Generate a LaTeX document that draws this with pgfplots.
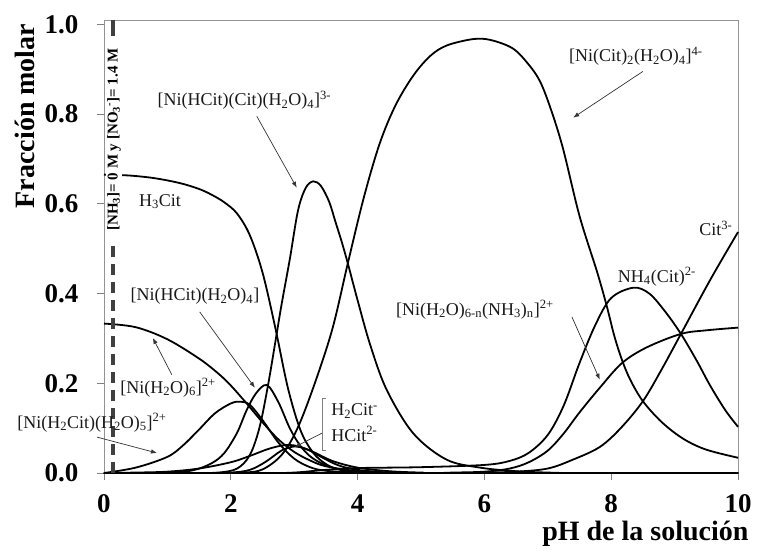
\documentclass[border=0pt]{standalone}
\usepackage{fontspec}
\setmainfont{Liberation Serif}
\usepackage{pgfplots}
\pgfplotsset{compat=1.18}
\usetikzlibrary{arrows.meta}
\pgfplotsset{curve/.style={black, solid, no marks, line width=1.8pt, smooth, tension=0.55}}
\begin{document}
\begin{tikzpicture}[x=1pt,y=1pt]
\useasboundingbox (-104,-77) rectangle (653,473);
\begin{axis}[
  at={(0pt,0pt)}, anchor=south west,
  width=634pt, height=453pt, scale only axis,
  xmin=0, xmax=10, ymin=0, ymax=1.0096,
  xtick={0,2,4,6,8,10}, ytick={0,0.2,0.4,0.6,0.8,1.0},
  tick align=outside, xtick pos=bottom, ytick pos=left,
  major tick length=7pt,
  tick style={gray, line width=0.8pt},
  axis line style={gray!85, line width=0.8pt},
  /pgf/number format/assume math mode=true,
  ticklabel style={font=\fontsize{27}{30}\selectfont\bfseries},
  yticklabel style={/pgf/number format/fixed,/pgf/number format/fixed zerofill,/pgf/number format/precision=1, xshift=-15pt},
  xticklabel style={yshift=-11pt},
  xlabel={pH de la solución}, ylabel={Fracción molar},
  label style={font=\fontsize{28}{30}\selectfont\bfseries},
  xlabel style={at={(axis description cs:1.022,-0.148)}, anchor=base east},
  ylabel style={at={(axis description cs:-0.1246,0.788)}, anchor=center},
  clip=false,
]
% H3Cit
\addplot[curve] coordinates {(0,0.665)(0.4,0.663)(0.8,0.657)(1.2,0.646)(1.5,0.633)(1.7,0.62)(1.9,0.603)(2.1,0.578)(2.3,0.53)(2.5,0.447)(2.7,0.325)(2.9,0.19)(3.1,0.095)(3.3,0.045)(3.5,0.02)(3.7,0.008)(4,0.002)(4.5,0)(5,0)(10,0)};
% Ni(H2O)6
\addplot[curve] coordinates {(0,0.333)(0.5,0.325)(1,0.298)(1.5,0.255)(1.8,0.222)(2,0.195)(2.25,0.155)(2.5,0.113)(2.75,0.075)(3,0.047)(3.25,0.028)(3.5,0.015)(4,0.004)(4.5,0.001)(5,0)(5.5,0)(10,0)};
% Ni(H2Cit)(H2O)5
\addplot[curve] coordinates {(0,0)(0.5,0.012)(1,0.036)(1.25,0.062)(1.5,0.097)(1.75,0.133)(2,0.155)(2.15,0.159)(2.3,0.152)(2.5,0.118)(2.75,0.068)(3,0.032)(3.25,0.013)(3.5,0.005)(4,0.001)(4.5,0)(5,0)(10,0)};
% Ni(HCit)(H2O)4
\addplot[curve] coordinates {(0,0)(0.5,0)(1,0.001)(1.4,0.006)(1.7,0.022)(1.9,0.045)(2.1,0.09)(2.25,0.14)(2.4,0.178)(2.57,0.196)(2.75,0.158)(2.93,0.1)(3.1,0.06)(3.3,0.032)(3.6,0.012)(4,0.003)(4.5,0)(5,0)(10,0)};
% Ni(HCit)(Cit)(H2O)4
\addplot[curve] coordinates {(0,0)(1.3,0)(1.8,0.001)(2.1,0.01)(2.3,0.04)(2.45,0.1)(2.58,0.19)(2.7,0.29)(2.8,0.375)(2.93,0.476)(3.06,0.585)(3.18,0.635)(3.3,0.65)(3.42,0.64)(3.55,0.605)(3.65,0.56)(3.75,0.515)(3.85,0.465)(4.0,0.385)(4.2,0.285)(4.46,0.185)(4.88,0.088)(5.4,0.03)(5.93,0.012)(6.5,0.004)(7,0.001)(7.5,0)(10,0)};
% Ni(Cit)2(H2O)4
\addplot[curve] coordinates {(0,0)(1.6,0)(2.2,0.001)(2.5,0.008)(2.8,0.04)(3.04,0.096)(3.3,0.19)(3.6,0.32)(3.85,0.47)(4.1,0.615)(4.35,0.735)(4.6,0.82)(4.88,0.886)(5.15,0.93)(5.41,0.953)(5.82,0.967)(6.1,0.965)(6.45,0.946)(6.7,0.91)(6.88,0.872)(7.05,0.81)(7.24,0.723)(7.5,0.573)(7.78,0.447)(7.93,0.372)(8.05,0.305)(8.17,0.252)(8.3,0.208)(8.5,0.16)(8.8,0.113)(9.14,0.076)(9.5,0.052)(10,0.034)};
% H2Cit-
\addplot[curve] coordinates {(0,0)(0.5,0.001)(1,0.003)(1.5,0.01)(2,0.024)(2.3,0.038)(2.6,0.054)(2.85,0.062)(3.05,0.06)(3.3,0.047)(3.6,0.027)(4,0.012)(4.5,0.004)(5,0.001)(5.5,0)(10,0)};
% HCit2-
\addplot[curve] coordinates {(0,0)(1.5,0)(2,0.001)(2.3,0.007)(2.55,0.025)(2.8,0.05)(3.0,0.059)(3.2,0.053)(3.45,0.034)(3.7,0.017)(4,0.007)(4.5,0.001)(5,0)(10,0)};
% NH4(Cit)2-
\addplot[curve] coordinates {(0,0)(2.5,0)(3,0.001)(3.5,0.007)(4,0.011)(5,0.013)(6,0.018)(6.4,0.027)(6.7,0.045)(7.0,0.085)(7.25,0.15)(7.5,0.245)(7.75,0.33)(8.0,0.39)(8.35,0.413)(8.6,0.4)(8.85,0.36)(9.1,0.31)(9.35,0.25)(9.56,0.195)(9.8,0.14)(10,0.103)};
% Ni(H2O)6-n(NH3)n
\addplot[curve] coordinates {(0,0)(5,0)(5.5,0.001)(6,0.003)(6.4,0.01)(6.7,0.024)(7,0.05)(7.25,0.088)(7.5,0.135)(7.82,0.19)(8.17,0.245)(8.56,0.28)(9.1,0.31)(9.5,0.318)(10,0.324)};
% Cit3-
\addplot[curve] coordinates {(0,0)(5.5,0)(6,0.001)(6.5,0.003)(7,0.01)(7.4,0.03)(7.82,0.058)(8.15,0.1)(8.5,0.16)(8.8,0.232)(9.1,0.31)(9.56,0.43)(10,0.537)};
% baseline
\addplot[black, line width=2.6pt, sharp plot, no marks] coordinates {(0,0)(10,0)};
% dashed reference line
\addplot[black!75, line width=3.4pt, sharp plot, no marks, dash pattern=on 11pt off 7pt] coordinates {(0.14,0)(0.14,0.515)};
\addplot[black!75, line width=3.4pt, sharp plot, no marks] coordinates {(0.14,0.975)(0.14,1.0096)};
\node[rotate=90, font=\fontsize{15}{16}\selectfont\bfseries, anchor=center, fill=white, inner xsep=1pt, inner ysep=1pt] at (axis cs:0.158,0.743) {[NH\textsubscript{3}]= 0 M y [NO\textsubscript{3}\textsuperscript{-}]= 1.4 M};
% labels
\begin{scope}[every node/.style={font=\fontsize{18}{20}\selectfont, text=black!90}]
\node[anchor=west] at (axis cs:0.79,0.830) {[Ni(HCit)(Cit)(H\textsubscript{2}O)\textsubscript{4}]\textsuperscript{3-}};
\node at (axis cs:0.883,0.605) {H\textsubscript{3}Cit};
\node at (axis cs:8.39,0.929) {[Ni(Cit)\textsubscript{2}(H\textsubscript{2}O)\textsubscript{4}]\textsuperscript{4-}};
\node at (axis cs:9.65,0.545) {Cit\textsuperscript{3-}};
\node at (axis cs:8.72,0.4375) {NH\textsubscript{4}(Cit)\textsuperscript{2-}};
\node at (axis cs:5.85,0.364) {[Ni(H\textsubscript{2}O)\textsubscript{6-n}(NH\textsubscript{3})\textsubscript{n}]\textsuperscript{2+}};
\node at (axis cs:1.435,0.393) {[Ni(HCit)(H\textsubscript{2}O)\textsubscript{4}]};
\node at (axis cs:1.01,0.190) {[Ni(H\textsubscript{2}O)\textsubscript{6}]\textsuperscript{2+}};
\node at (axis cs:-0.19,0.112) {[Ni(H\textsubscript{2}Cit)(H\textsubscript{2}O)\textsubscript{5}]\textsuperscript{2+}};
\node[anchor=west] at (axis cs:3.53,0.138) {H\textsubscript{2}Cit\textsuperscript{-}};
\node[anchor=west] at (axis cs:3.53,0.087) {HCit\textsuperscript{2-}};
\end{scope}
\begin{scope}[black!80, line width=0.7pt, -{Latex[length=6pt,width=4.5pt]}]
\draw (axis cs:2.41,0.795) -- (axis cs:3.04,0.636);
\draw (axis cs:8.50,0.895) -- (axis cs:7.40,0.792);
\draw (axis cs:7.38,0.348) -- (axis cs:7.82,0.208);
\draw (axis cs:1.51,0.359) -- (axis cs:2.38,0.190);
\draw (axis cs:1.07,0.219) -- (axis cs:0.77,0.301);
\draw (axis cs:-0.11,0.080) -- (axis cs:0.836,0.0446);
\draw (axis cs:3.44,0.089) -- (axis cs:3.01,0.058);
\end{scope}
\draw[gray, line width=0.7pt] (axis cs:3.50,0.167) -- (axis cs:3.44,0.167) -- (axis cs:3.44,0.051) -- (axis cs:3.50,0.051);
\end{axis}
\end{tikzpicture}
\end{document}
